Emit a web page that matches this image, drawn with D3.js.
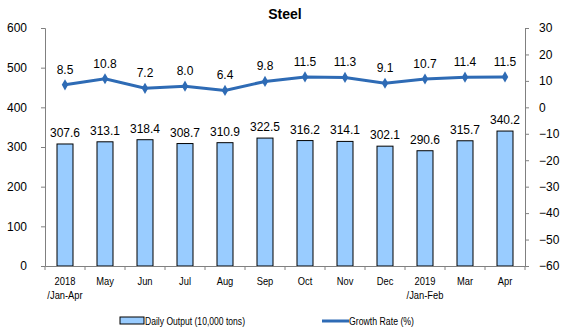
<!DOCTYPE html>
<html><head><meta charset="utf-8">
<script src="https://cdn.jsdelivr.net/npm/d3@7"></script>
<style>body{margin:0;background:#fff}svg{display:block}</style>
</head><body>
<svg id="c" width="563" height="331"></svg>
<script>
const categories = ["2018\n/Jan-Apr","May","Jun","Jul","Aug","Sep","Oct","Nov","Dec","2019\n/Jan-Feb","Mar","Apr"];
const dailyOutput = [307.6,313.1,318.4,308.7,310.9,322.5,316.2,314.1,302.1,290.6,315.7,340.2];
const growthRate = [8.5,10.8,7.2,8.0,6.4,9.8,11.5,11.3,9.1,10.7,11.4,11.5];
const leftTicks = [0,100,200,300,400,500,600];
const rightTicks = [-60,-50,-40,-30,-20,-10,0,10,20,30];
const title = "Steel";
const seriesNames = ["Daily Output (10,000 tons)","Growth Rate (%)"];

const svg = d3.select("#c");
const font = "Arial, 'Liberation Sans', sans-serif";
const L = 45, R = 525, T = 28, B = 266;
const barColor = "#99CCFF", lineColor = "#2E6BB5";

const xb = d3.scaleBand().domain(d3.range(categories.length)).range([L, R]);
const cx = i => xb(i) + xb.bandwidth()/2;
const yL = d3.scaleLinear().domain([0, 600]).range([B, T]);
const yR = d3.scaleLinear().domain([-60, 30]).range([B, T]);

svg.append("text").attr("x", 285).attr("y", 19).attr("text-anchor", "middle")
  .attr("font-family", font).attr("font-weight", "bold").attr("font-size", 14).text(title);

// bars
svg.selectAll("rect.bar").data(dailyOutput).join("rect").attr("class","bar")
  .attr("x", (d,i) => cx(i) - 8).attr("width", 16)
  .attr("y", d => yL(d)).attr("height", d => B - yL(d))
  .attr("fill", barColor).attr("stroke", "#000").attr("stroke-width", 1);

svg.selectAll("text.bl").data(dailyOutput).join("text").attr("class","bl")
  .attr("x", (d,i) => cx(i)).attr("y", d => yL(d) - 7)
  .attr("text-anchor","middle").attr("font-family", font).attr("font-size", 12)
  .text(d => d.toFixed(1));

// axes
const gL = svg.append("g").attr("transform", `translate(${L},0)`)
  .call(d3.axisLeft(yL).tickValues(leftTicks).tickSize(4).tickPadding(14));
const gR = svg.append("g").attr("transform", `translate(${R},0)`)
  .call(d3.axisRight(yR).tickValues(rightTicks).tickSize(4).tickPadding(10));
const gX = svg.append("g").attr("transform", `translate(0,${B})`)
  .call(d3.axisBottom(xb).tickSize(0).tickFormat(""));
[gL, gR, gX].forEach(g => {
  g.selectAll("path").attr("stroke", "#808080").attr("stroke-width", 1);
  g.selectAll("line").attr("stroke", "#808080");
  g.selectAll("text").attr("font-family", font).attr("font-size", 12).attr("fill", "#000");
});
// category tick marks at band boundaries
svg.append("g").selectAll("line").data(d3.range(categories.length + 1)).join("line")
  .attr("x1", i => i < categories.length ? xb(i) : R).attr("x2", i => i < categories.length ? xb(i) : R)
  .attr("y1", B).attr("y2", B + 4).attr("stroke", "#808080");
// category labels (condensed)
const cg = svg.append("g").selectAll("g").data(categories).join("g")
  .attr("transform", (d,i) => `translate(${cx(i)},285) scale(0.85,1)`);
cg.append("text").attr("text-anchor","middle").attr("font-family", font).attr("font-size", 11)
  .each(function(d) {
    const t = d3.select(this);
    d.split("\n").forEach((p, j) => t.append("tspan").attr("x", 0).attr("dy", j ? 14 : 0).text(p));
  });

// line
const line = d3.line().x((d,i) => cx(i)).y(d => yR(d));
svg.append("path").datum(growthRate).attr("d", line).attr("fill","none")
  .attr("stroke", lineColor).attr("stroke-width", 3);
svg.selectAll("path.mk").data(growthRate).join("path").attr("class","mk")
  .attr("d", d3.symbol(d3.symbolDiamond, 36))
  .attr("transform", (d,i) => `translate(${cx(i)},${yR(d)})`)
  .attr("fill", lineColor);
svg.selectAll("text.ll").data(growthRate).join("text").attr("class","ll")
  .attr("x", (d,i) => cx(i)).attr("y", d => yR(d) - 11)
  .attr("text-anchor","middle").attr("font-family", font).attr("font-size", 12)
  .text(d => d.toFixed(1));

// legend
const lg = svg.append("g");
lg.append("rect").attr("x", 120).attr("y", 317).attr("width", 24).attr("height", 7)
  .attr("fill", barColor).attr("stroke", "#000");
lg.append("text").attr("x", 145).attr("y", 325).attr("font-family", font).attr("font-size", 11)
  .attr("textLength", 100).attr("lengthAdjust", "spacingAndGlyphs").text(seriesNames[0]);
lg.append("line").attr("x1", 322).attr("x2", 349).attr("y1", 321).attr("y2", 321)
  .attr("stroke", lineColor).attr("stroke-width", 3);
lg.append("text").attr("x", 349).attr("y", 325).attr("font-family", font).attr("font-size", 11)
  .attr("textLength", 65).attr("lengthAdjust", "spacingAndGlyphs").text(seriesNames[1]);
</script>
</body></html>
